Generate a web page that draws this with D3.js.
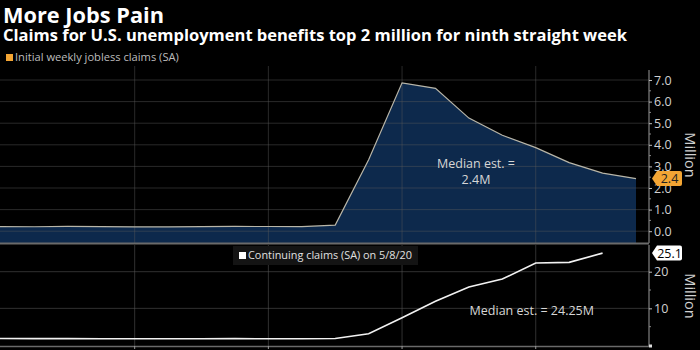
<!DOCTYPE html>
<html><head><meta charset="utf-8">
<script src="https://cdn.jsdelivr.net/npm/d3@7"></script>
<style>
html,body{margin:0;padding:0;background:#000;}
svg{display:block;}
text{font-family:"Open Sans","DejaVu Sans",sans-serif;}
</style></head>
<body>
<svg id="chart" width="700" height="350"></svg>
<script>
// ---- data ----
const weeks = ["2019-12-28","2020-01-04","2020-01-11","2020-01-18","2020-01-25","2020-02-01","2020-02-08","2020-02-15","2020-02-22","2020-02-29","2020-03-07","2020-03-14","2020-03-21","2020-03-28","2020-04-04","2020-04-11","2020-04-18","2020-04-25","2020-05-02","2020-05-09","2020-05-16"];
const initialClaims = [0.220,0.212,0.207,0.220,0.216,0.201,0.204,0.211,0.219,0.217,0.211,0.282,3.307,6.867,6.615,5.237,4.442,3.867,3.176,2.687,2.438];
const continuingClaims = [1.73,1.76,1.73,1.75,1.70,1.72,1.70,1.72,1.73,1.70,1.70,1.78,3.06,7.45,11.91,15.82,18.01,22.38,22.55,25.07,null];
const topTicks = [0,1,2,3,4,5,6,7];
const bottomTicks = [10,20];
const gridDates = ["2020-02-01","2020-02-29","2020-03-28","2020-04-25"];
const title = "More Jobs Pain";
const subtitle = "Claims for U.S. unemployment benefits top 2 million for ninth straight week";
const legendTop = "Initial weekly jobless claims (SA)";
const legendBottom = "Continuing claims (SA) on 5/8/20";
const lastInitialLabel = "2.4";
const lastContLabel = "25.1";

const parse = d3.utcParse("%Y-%m-%d");
const dates = weeks.map(parse);

const svg = d3.select("#chart");
const plotL = 0, plotR = 649;
const topT = 66, topB = 243, botT = 245, botB = 346;

const x = d3.scaleUtc().domain([parse("2020-01-04"), parse("2020-05-16")]).range([1, 636]);
const yTop = d3.scaleLinear().domain([0, 7]).range([231.2, 80]);
const yBot = d3.scaleLinear().domain([0, 20]).range([345, 271.7]);

function fit(sel, w){
  const n = sel.node();
  const fs = parseFloat(sel.attr("font-size"));
  const len = n.getComputedTextLength();
  sel.attr("font-size", (fs * w / len).toFixed(2));
}

// titles
fit(svg.append("text").attr("x",3).attr("y",22.5).attr("fill","#fff").attr("font-weight","bold").attr("font-size",20).text(title), 161);
fit(svg.append("text").attr("x",3).attr("y",40.5).attr("fill","#fff").attr("font-weight","bold").attr("font-size",15).text(subtitle), 624);

// legend top
svg.append("rect").attr("x",6).attr("y",54).attr("width",7).attr("height",7).attr("fill","#f3a534");
fit(svg.append("text").attr("x",15).attr("y",61).attr("fill","#bdbdbd").attr("font-size",10).text(legendTop), 164);

const defs = svg.append("defs");
defs.append("clipPath").attr("id","clipTop").append("rect").attr("x",plotL).attr("y",topT).attr("width",plotR-plotL).attr("height",topB-topT);
defs.append("clipPath").attr("id","clipBot").append("rect").attr("x",plotL).attr("y",botT).attr("width",plotR-plotL).attr("height",botB-botT);

// ---- top panel ----
const gTop = svg.append("g").attr("clip-path","url(#clipTop)");
const topData = dates.map((d,i)=>({d, v: initialClaims[i]}));
gTop.append("path").datum(topData)
  .attr("fill","#0d294c")
  .attr("d", d3.area().x(p=>x(p.d)).y0(topB).y1(p=>yTop(p.v)));
// gridlines over fill
gTop.selectAll(".hg").data(topTicks).join("line")
  .attr("x1",plotL).attr("x2",plotR).attr("y1",d=>yTop(d)).attr("y2",d=>yTop(d))
  .attr("stroke","#5a5a5a").attr("stroke-opacity",0.45).attr("stroke-width",1);
gTop.selectAll(".vg").data(gridDates).join("line")
  .attr("x1",d=>x(parse(d))).attr("x2",d=>x(parse(d))).attr("y1",topT).attr("y2",topB)
  .attr("stroke","#5a5a5a").attr("stroke-opacity",0.45).attr("stroke-width",1);
gTop.append("path").datum(topData)
  .attr("fill","none").attr("stroke","#b9b6a8").attr("stroke-width",1.2)
  .attr("d", d3.line().x(p=>x(p.d)).y(p=>yTop(p.v)));

// top axis
const axTop = svg.append("g").attr("transform",`translate(${plotR},0)`)
  .call(d3.axisRight(yTop).tickValues(topTicks).tickFormat(d3.format(".1f")).tickSize(3).tickPadding(2));
axTop.select(".domain").attr("d",`M0,70V${topB}`).attr("stroke","#9a9a9a");
axTop.selectAll(".tick line").attr("stroke","#bbb");
axTop.selectAll(".tick text").attr("fill","#d0d0d0").attr("font-size",12.5).attr("font-family","'Open Sans',sans-serif");
// minor ticks
svg.append("g").selectAll("line").data(d3.range(0.5,7.5,1)).join("line")
  .attr("x1",plotR).attr("x2",plotR+2).attr("y1",d=>yTop(d)).attr("y2",d=>yTop(d)).attr("stroke","#888");

svg.append("text").attr("transform","translate(685,155) rotate(90)").attr("text-anchor","middle")
  .attr("fill","#d0d0d0").attr("font-size",14.5).text("Million");

// separator
svg.append("line").attr("x1",0).attr("x2",plotR).attr("y1",topB+0.5).attr("y2",topB+0.5).attr("stroke","#6a6a6a").attr("stroke-width",2);

// ---- bottom panel ----
const gBot = svg.append("g").attr("clip-path","url(#clipBot)");
gBot.selectAll(".hg").data(bottomTicks).join("line")
  .attr("x1",plotL).attr("x2",plotR).attr("y1",d=>yBot(d)).attr("y2",d=>yBot(d))
  .attr("stroke","#5a5a5a").attr("stroke-opacity",0.55);
gBot.selectAll(".vg").data(gridDates).join("line")
  .attr("x1",d=>x(parse(d))).attr("x2",d=>x(parse(d))).attr("y1",botT).attr("y2",botB)
  .attr("stroke","#5a5a5a").attr("stroke-opacity",0.55);
const botData = dates.map((d,i)=>({d, v: continuingClaims[i]})).filter(p=>p.v!=null);
gBot.append("path").datum(botData)
  .attr("fill","none").attr("stroke","#f2f2f2").attr("stroke-width",1.6)
  .attr("d", d3.line().x(p=>x(p.d)).y(p=>yBot(p.v)));

// bottom baseline
svg.append("line").attr("x1",0).attr("x2",plotR).attr("y1",botB+0.5).attr("y2",botB+0.5).attr("stroke","#6a6a6a").attr("stroke-width",1.5);
svg.append("g").selectAll("line").data(gridDates).join("line")
  .attr("x1",d=>x(parse(d))).attr("x2",d=>x(parse(d))).attr("y1",botB).attr("y2",botB+3).attr("stroke","#999");

// bottom axis
const axBot = svg.append("g").attr("transform",`translate(${plotR},0)`)
  .call(d3.axisRight(yBot).tickValues(bottomTicks).tickSize(3).tickPadding(2));
axBot.select(".domain").attr("d",`M0,${botT}V${botB}`).attr("stroke","#9a9a9a");
axBot.selectAll(".tick line").attr("stroke","#bbb");
axBot.selectAll(".tick text").attr("fill","#d0d0d0").attr("font-size",12.5).attr("font-family","'Open Sans',sans-serif");
svg.append("g").selectAll("line").data([5,15]).join("line")
  .attr("x1",plotR).attr("x2",plotR+2).attr("y1",d=>yBot(d)).attr("y2",d=>yBot(d)).attr("stroke","#888");
svg.append("rect").attr("x",plotR).attr("y",botB-1.5).attr("width",3).attr("height",3).attr("fill","#ddd");

svg.append("text").attr("transform","translate(685,296) rotate(90)").attr("text-anchor","middle")
  .attr("fill","#d0d0d0").attr("font-size",14.5).text("Million");

// bottom legend
svg.append("rect").attr("x",233).attr("y",246).attr("width",185).attr("height",19).attr("fill","#141414");
svg.append("rect").attr("x",239).attr("y",252).attr("width",7).attr("height",7).attr("fill","#fff");
fit(svg.append("text").attr("x",248).attr("y",259).attr("fill","#e0e0e0").attr("font-size",10.5).text(legendBottom), 164);

// last value tags
function tag(yv, label, fill, textFill){
  const g = svg.append("g").attr("transform",`translate(${plotR+3},${yv})`);
  g.append("path").attr("d","M0,0 L5,-7.5 H28 Q30,-7.5 30,-5.5 V5.5 Q30,7.5 28,7.5 H5 Z").attr("fill",fill);
  g.append("text").attr("x",17.5).attr("y",4.5).attr("text-anchor","middle").attr("fill",textFill)
    .attr("font-size",12.5).text(label);
}
tag(yTop(initialClaims[initialClaims.length-1]), lastInitialLabel, "#f3a534", "#222");
tag(yBot(continuingClaims[continuingClaims.length-2]), lastContLabel, "#fff", "#000");

// annotations
svg.append("text").attr("x",476).attr("y",168).attr("text-anchor","middle").attr("fill","#d6d6d6").attr("font-size",12.5).text("Median est. =");
svg.append("text").attr("x",476).attr("y",184).attr("text-anchor","middle").attr("fill","#d6d6d6").attr("font-size",12.5).text("2.4M");
svg.append("text").attr("x",594).attr("y",315).attr("text-anchor","end").attr("fill","#d6d6d6").attr("font-size",12.5).text("Median est. = 24.25M");
</script>
</body></html>
